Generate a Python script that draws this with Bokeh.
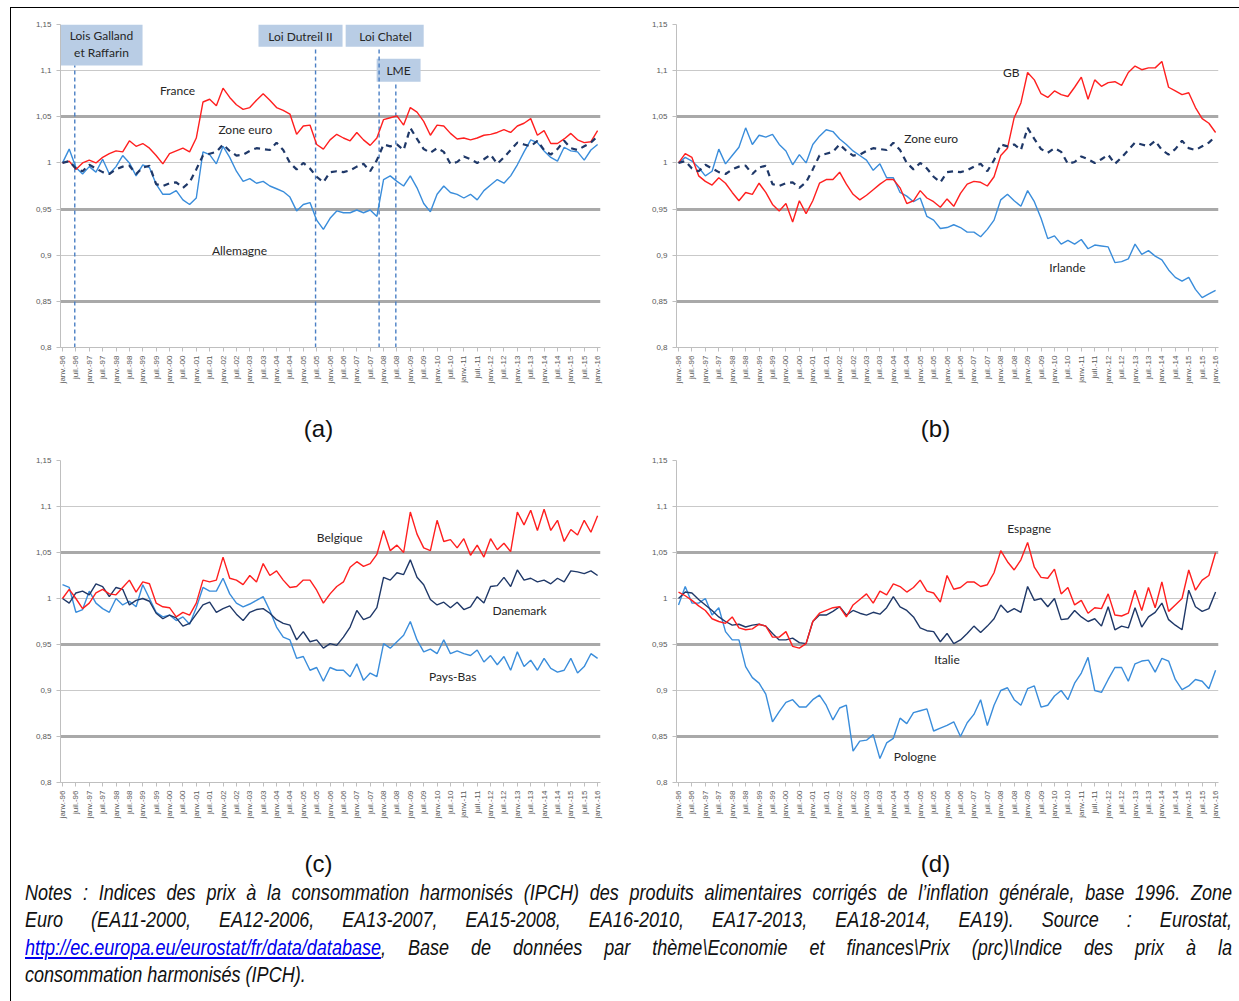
import math
from bokeh.plotting import figure
from bokeh.layouts import column, row
from bokeh.models import Range1d, FixedTicker, Grid, Div
from bokeh.core.properties import value
from bokeh.embed import file_html
from bokeh.resources import INLINE

# ---------------- data (quarterly readings, month index from janv.-96) -------------
months = list(range(0, 241, 3))

tick_months = list(range(0, 241, 6))
tick_labels = ["janv.-96", "juil.-96", "janv.-97", "juil.-97", "janv.-98", "juil.-98",
               "janv.-99", "juil.-99", "janv.-00", "juil.-00", "janv.-01", "juil.-01",
               "janv.-02", "juil.-02", "janv.-03", "juil.-03", "janv.-04", "juil.-04",
               "janv.-05", "juil.-05", "janv.-06", "juil.-06", "janv.-07", "juil.-07",
               "janv.-08", "juil.-08", "janv.-09", "juil.-09", "janv.-10", "juil.-10",
               "janv.-11", "juil.-11", "janv.-12", "juil.-12", "janv.-13", "juil.-13",
               "janv.-14", "juil.-14", "janv.-15", "juil.-15", "janv.-16"]

y_ticks = [0.8, 0.85, 0.9, 0.95, 1.0, 1.05, 1.1, 1.15]
y_labels = ["0,8", "0,85", "0,9", "0,95", "1", "1,05", "1,1", "1,15"]

captions = ["(a)", "(b)", "(c)", "(d)"]

france = [1.000, 1.002, 0.993, 1.000, 1.003, 1.000, 1.006, 1.010, 1.013, 1.012, 1.024, 1.018,
          1.021, 1.016, 1.008, 0.999, 1.010, 1.013, 1.016, 1.012, 1.027, 1.066, 1.069, 1.062,
          1.081, 1.071, 1.063, 1.058, 1.060, 1.068, 1.075, 1.068, 1.060, 1.057, 1.053, 1.031,
          1.040, 1.041, 1.020, 1.015, 1.025, 1.031, 1.027, 1.024, 1.033, 1.025, 1.019, 1.027,
          1.047, 1.049, 1.051, 1.041, 1.060, 1.055, 1.045, 1.030, 1.041, 1.040, 1.032, 1.026,
          1.027, 1.025, 1.027, 1.030, 1.031, 1.033, 1.036, 1.033, 1.040, 1.043, 1.048, 1.030,
          1.035, 1.021, 1.021, 1.026, 1.032, 1.025, 1.022, 1.023, 1.035]
zone_euro = [1.000, 1.002, 0.994, 0.991, 0.998, 0.994, 0.990, 0.988, 0.993, 0.996, 0.997, 0.988,
             0.995, 0.997, 0.977, 0.975, 0.978, 0.979, 0.973, 0.979, 0.993, 1.008, 1.010, 1.012,
             1.020, 1.013, 1.008, 1.009, 1.013, 1.016, 1.015, 1.014, 1.022, 1.014, 1.000, 0.993,
             1.000, 0.994, 0.985, 0.979, 0.990, 0.991, 0.990, 0.992, 0.996, 0.999, 0.991, 1.003,
             1.020, 1.018, 1.020, 1.014, 1.038, 1.026, 1.015, 1.011, 1.016, 1.012, 0.999, 1.001,
             1.007, 1.004, 1.000, 1.004, 1.009, 0.999, 1.006, 1.014, 1.022, 1.020, 1.018, 1.024,
             1.014, 1.009, 1.015, 1.024, 1.016, 1.014, 1.018, 1.022, 1.029]
allemagne = [1.000, 1.015, 0.995, 0.988, 0.996, 0.990, 1.004, 0.988, 0.996, 1.008, 1.000, 0.986,
             0.998, 0.995, 0.977, 0.966, 0.966, 0.970, 0.960, 0.955, 0.962, 1.012, 1.009, 0.999,
             1.018, 1.006, 0.991, 0.980, 0.983, 0.978, 0.980, 0.975, 0.972, 0.969, 0.963, 0.948,
             0.955, 0.957, 0.938, 0.928, 0.940, 0.948, 0.946, 0.946, 0.949, 0.946, 0.949, 0.942,
             0.982, 0.986, 0.980, 0.975, 0.986, 0.973, 0.956, 0.947, 0.966, 0.975, 0.968, 0.966,
             0.962, 0.966, 0.960, 0.970, 0.976, 0.982, 0.978, 0.986, 0.998, 1.012, 1.025, 1.022,
             1.013, 1.006, 1.002, 1.017, 1.013, 1.012, 1.003, 1.014, 1.020]
gb = [1.000, 1.010, 1.006, 0.986, 0.980, 0.976, 0.984, 0.978, 0.968, 0.959, 0.968, 0.966,
      0.978, 0.968, 0.955, 0.948, 0.956, 0.936, 0.959, 0.945, 0.959, 0.978, 0.982, 0.982,
      0.990, 0.977, 0.966, 0.960, 0.965, 0.971, 0.977, 0.982, 0.982, 0.973, 0.956, 0.959,
      0.970, 0.962, 0.958, 0.952, 0.961, 0.953, 0.967, 0.977, 0.980, 0.979, 0.975, 0.985,
      1.008, 1.016, 1.049, 1.065, 1.098, 1.090, 1.075, 1.071, 1.078, 1.074, 1.072, 1.082,
      1.093, 1.069, 1.090, 1.083, 1.087, 1.088, 1.084, 1.098, 1.105, 1.101, 1.103, 1.103,
      1.110, 1.082, 1.078, 1.074, 1.076, 1.060, 1.048, 1.043, 1.033]
irlande = [1.000, 1.006, 1.002, 0.995, 0.986, 0.991, 1.015, 0.999, 1.008, 1.017, 1.038, 1.020,
           1.030, 1.028, 1.031, 1.020, 1.013, 0.998, 1.009, 1.000, 1.020, 1.029, 1.036, 1.034,
           1.026, 1.020, 1.013, 1.008, 1.003, 0.992, 0.999, 0.984, 0.984, 0.968, 0.964, 0.958,
           0.962, 0.942, 0.938, 0.929, 0.930, 0.933, 0.930, 0.925, 0.925, 0.920, 0.928, 0.938,
           0.960, 0.966, 0.959, 0.953, 0.970, 0.958, 0.940, 0.918, 0.921, 0.912, 0.916, 0.912,
           0.917, 0.907, 0.911, 0.910, 0.909, 0.892, 0.893, 0.896, 0.912, 0.901, 0.905, 0.899,
           0.895, 0.884, 0.876, 0.872, 0.876, 0.863, 0.854, 0.858, 0.862]
belgique = [1.000, 1.010, 1.000, 0.989, 0.995, 1.006, 1.010, 1.005, 1.004, 1.012, 1.020, 1.007,
            1.018, 1.016, 0.995, 0.991, 0.990, 0.980, 0.985, 0.982, 0.995, 1.020, 1.018, 1.020,
            1.045, 1.022, 1.020, 1.015, 1.025, 1.018, 1.038, 1.025, 1.030, 1.020, 1.012, 1.013,
            1.020, 1.020, 1.009, 0.995, 1.005, 1.013, 1.018, 1.034, 1.040, 1.035, 1.038, 1.048,
            1.074, 1.052, 1.058, 1.050, 1.094, 1.070, 1.055, 1.052, 1.085, 1.062, 1.064, 1.055,
            1.065, 1.047, 1.058, 1.045, 1.065, 1.053, 1.060, 1.051, 1.094, 1.080, 1.096, 1.074,
            1.097, 1.074, 1.085, 1.062, 1.075, 1.069, 1.085, 1.072, 1.090]
danemark = [1.000, 0.995, 1.006, 1.008, 1.004, 1.016, 1.013, 1.002, 1.012, 1.010, 0.993, 0.998,
            1.000, 0.997, 0.984, 0.978, 0.982, 0.979, 0.970, 0.973, 0.983, 0.993, 0.996, 0.985,
            0.989, 0.992, 0.983, 0.976, 0.985, 0.988, 0.989, 0.984, 0.977, 0.973, 0.971, 0.955,
            0.964, 0.953, 0.955, 0.946, 0.951, 0.949, 0.958, 0.969, 0.987, 0.977, 0.980, 0.990,
            1.023, 1.020, 1.028, 1.026, 1.042, 1.023, 1.015, 0.999, 0.993, 0.996, 0.990, 0.996,
            0.988, 0.991, 1.002, 0.995, 1.013, 1.014, 1.023, 1.013, 1.031, 1.020, 1.022, 1.018,
            1.020, 1.016, 1.022, 1.018, 1.030, 1.029, 1.027, 1.030, 1.025]
pays_bas = [1.015, 1.012, 0.985, 0.988, 1.008, 0.995, 0.989, 0.985, 1.000, 0.993, 0.997, 0.991,
            1.015, 1.000, 0.985, 0.980, 0.982, 0.976, 0.980, 0.972, 0.990, 1.012, 1.008, 1.008,
            1.022, 1.005, 0.995, 0.991, 0.994, 0.998, 1.002, 0.987, 0.969, 0.958, 0.955, 0.935,
            0.937, 0.922, 0.925, 0.910, 0.925, 0.922, 0.922, 0.915, 0.929, 0.911, 0.919, 0.915,
            0.951, 0.946, 0.953, 0.960, 0.975, 0.955, 0.942, 0.945, 0.940, 0.955, 0.940, 0.943,
            0.940, 0.938, 0.944, 0.931, 0.938, 0.928, 0.937, 0.922, 0.942, 0.926, 0.933, 0.922,
            0.935, 0.924, 0.920, 0.922, 0.935, 0.919, 0.926, 0.940, 0.935]
espagne = [1.007, 1.003, 0.998, 0.992, 0.987, 0.978, 0.975, 0.973, 0.980, 0.968, 0.966, 0.967,
           0.972, 0.970, 0.958, 0.958, 0.964, 0.948, 0.946, 0.951, 0.975, 0.984, 0.987, 0.990,
           0.991, 0.980, 0.993, 0.999, 1.005, 0.995, 1.008, 1.004, 1.016, 1.013, 1.007, 1.012,
           1.020, 1.008, 1.006, 0.996, 1.025, 1.010, 1.012, 1.018, 1.018, 1.013, 1.015, 1.028,
           1.052, 1.040, 1.031, 1.042, 1.061, 1.034, 1.023, 1.022, 1.032, 1.005, 1.012, 0.993,
           0.998, 0.984, 0.990, 0.989, 1.005, 0.982, 0.981, 0.984, 1.009, 0.987, 1.012, 0.990,
           1.018, 0.986, 0.993, 1.000, 1.031, 1.009, 1.020, 1.025, 1.050]
italie = [1.000, 1.007, 1.006, 0.999, 0.993, 0.987, 0.980, 0.975, 0.971, 0.972, 0.969, 0.971,
          0.972, 0.970, 0.962, 0.955, 0.955, 0.957, 0.952, 0.951, 0.975, 0.982, 0.982, 0.986,
          0.991, 0.982, 0.987, 0.984, 0.982, 0.985, 0.983, 0.990, 1.002, 0.991, 0.987, 0.980,
          0.968, 0.965, 0.964, 0.953, 0.962, 0.951, 0.955, 0.962, 0.970, 0.963, 0.970, 0.978,
          0.993, 0.985, 0.989, 0.985, 1.013, 0.998, 1.000, 0.991, 1.000, 0.977, 0.978, 0.987,
          0.980, 0.975, 0.978, 0.970, 0.991, 0.966, 0.970, 0.968, 0.990, 0.969, 0.980, 0.985,
          0.995, 0.977, 0.971, 0.966, 1.009, 0.991, 0.986, 0.989, 1.007]
pologne = [0.993, 1.013, 0.995, 0.995, 1.000, 0.982, 0.990, 0.964, 0.955, 0.955, 0.926, 0.914,
           0.908, 0.896, 0.866, 0.877, 0.887, 0.890, 0.882, 0.882, 0.890, 0.895, 0.884, 0.868,
           0.881, 0.884, 0.834, 0.845, 0.846, 0.852, 0.826, 0.843, 0.848, 0.870, 0.864, 0.876,
           0.878, 0.880, 0.856, 0.859, 0.862, 0.866, 0.850, 0.865, 0.874, 0.890, 0.862, 0.884,
           0.900, 0.903, 0.890, 0.884, 0.902, 0.905, 0.882, 0.884, 0.894, 0.900, 0.890, 0.908,
           0.919, 0.936, 0.900, 0.898, 0.912, 0.925, 0.925, 0.910, 0.929, 0.932, 0.933, 0.920,
           0.935, 0.932, 0.912, 0.901, 0.905, 0.912, 0.910, 0.902, 0.922]

# French policy events (month index) shown in panel (a)
events = ["Lois Galland et Raffarin", "Loi Dutreil II", "Loi Chatel", "LME"]
event_months = [5.5, 113.5, 142, 149.5]

# ---------------- styles ------------------------------------------------------------
RED = "#ff1f1f"
BLUE = "#3a8ddb"
NAVY = "#1f3868"
LBL_FONT = "Lato"
W = 1.4


def make_panel(width, height, left, right, top, bottom):
    p = figure(width=width, height=height, output_backend="svg", toolbar_location=None,
               x_range=Range1d(-0.9, 241.3), y_range=Range1d(0.8, 1.15),
               min_border_left=left, min_border_right=right,
               min_border_top=top, min_border_bottom=bottom)
    p.outline_line_color = None
    p.background_fill_color = "white"
    p.border_fill_color = "white"
    p.xgrid.visible = False
    p.ygrid.ticker = FixedTicker(ticks=[0.9, 1.0, 1.1, 1.15])
    p.ygrid.grid_line_color = "#c9c9c9"
    p.ygrid.grid_line_width = 1.2
    p.add_layout(Grid(dimension=1, ticker=FixedTicker(ticks=[0.85, 0.95, 1.05]),
                      grid_line_color="#a9a9a9", grid_line_width=3))
    # y axis
    p.yaxis.ticker = FixedTicker(ticks=y_ticks)
    p.yaxis.major_label_overrides = dict(zip(y_ticks, y_labels))
    p.yaxis.major_label_text_font_size = "8px"
    p.yaxis.major_label_text_font = "Liberation Sans"
    p.yaxis.major_label_text_color = "#595959"
    p.yaxis.axis_line_color = "#bfbfbf"
    p.yaxis.major_tick_line_color = "#bfbfbf"
    p.yaxis.major_tick_out = 4
    p.yaxis.major_tick_in = 0
    p.yaxis.minor_tick_line_color = None
    # x axis
    p.xaxis.ticker = FixedTicker(ticks=tick_months)
    p.xaxis.major_label_overrides = dict(zip(tick_months, tick_labels))
    p.xaxis.major_label_orientation = math.pi / 2
    p.xaxis.major_label_text_font_size = "8px"
    p.xaxis.major_label_text_font = "Liberation Sans"
    p.xaxis.major_label_text_color = "#595959"
    p.xaxis.axis_line_color = "#bfbfbf"
    p.xaxis.major_tick_line_color = "#bfbfbf"
    p.xaxis.major_tick_out = 4
    p.xaxis.major_tick_in = 0
    p.xaxis.minor_tick_line_color = None
    p.xaxis.major_label_standoff = 4
    return p


def caption_fig(width, height, text, cx, cy):
    """A small strip holding the '(a)'-style caption under each panel (pixel space)."""
    c = figure(width=width, height=height, output_backend="svg", toolbar_location=None,
               x_range=Range1d(0, width), y_range=Range1d(0, height), min_border=0)
    c.axis.visible = False
    c.grid.visible = False
    c.outline_line_color = None
    c.border_fill_color = "white"
    c.text(x=[cx], y=[cy], text=[text], text_font=value("Liberation Sans"),
           text_font_size="24px", text_align="center", text_baseline="middle",
           text_color="#111111")
    return c


def labels(p, xs, ys, texts, size="12px"):
    p.text(x=xs, y=ys, text=texts, text_font=value(LBL_FONT), text_font_size=size,
           text_align="center", text_baseline="middle", text_color="#262626")


# ---------------- panel (a) ---------------------------------------------------------
pa = make_panel(607, 392, 49, 18, 16, 53)
pa.quad(left=[-0.9, 87.9, 127.0, 140.9], right=[35.9, 125.6, 162.0, 160.6],
        top=[1.15, 1.15, 1.15, 1.113], bottom=[1.1056, 1.126, 1.126, 1.088],
        fill_color="#b9cde5", line_color=None)
pa.segment(x0=event_months, x1=event_months, y0=[0.8] * 4,
           y1=[1.1056, 1.126, 1.126, 1.088], line_color="#4a7fc4", line_width=1.4,
           line_dash="4 3")
labels(pa, [17.5, 17.5, 106.7, 144.9, 150.7], [1.1385, 1.1195, 1.1375, 1.1375, 1.1005],
       ["Lois Galland", "et Raffarin", events[1], events[2], events[3]])
pa.line(months, allemagne, line_color=BLUE, line_width=W)
pa.line(months, france, line_color=RED, line_width=W)
pa.line(months, zone_euro, line_color=NAVY, line_width=2.2, line_dash="6 5")
labels(pa, [51.6, 82.0, 79.4], [1.0785, 1.0365, 0.905], ["France", "Zone euro", "Allemagne"])

# ---------------- panel (b) ---------------------------------------------------------
pb = make_panel(613, 392, 58, 13, 16, 53)
pb.line(months, irlande, line_color=BLUE, line_width=W)
pb.line(months, gb, line_color=RED, line_width=W)
pb.line(months, zone_euro, line_color=NAVY, line_width=2.2, line_dash="6 5")
labels(pb, [148.7, 112.9, 173.8], [1.098, 1.0265, 0.887], ["GB", "Zone euro", "Irlande"])

# ---------------- panel (c) ---------------------------------------------------------
pc = make_panel(607, 392, 49, 18, 15, 55)
pc.line(months, pays_bas, line_color=BLUE, line_width=W)
pc.line(months, danemark, line_color=NAVY, line_width=W)
pc.line(months, belgique, line_color=RED, line_width=W)
labels(pc, [124.3, 205.0, 175.0], [1.066, 0.987, 0.915], ["Belgique", "Danemark", "Pays-Bas"])

# ---------------- panel (d) ---------------------------------------------------------
pd_ = make_panel(613, 392, 58, 13, 15, 55)
pd_.line(months, pologne, line_color=BLUE, line_width=W)
pd_.line(months, italie, line_color=NAVY, line_width=W)
pd_.line(months, espagne, line_color=RED, line_width=W)
labels(pd_, [156.7, 120.0, 105.7], [1.076, 0.934, 0.828], ["Espagne", "Italie", "Pologne"])

cap_a = caption_fig(607, 45, captions[0], 307, 17)
cap_b = caption_fig(613, 45, captions[1], 317, 17)
cap_c = caption_fig(607, 41, captions[2], 307, 15)
cap_d = caption_fig(613, 41, captions[3], 317, 15)

# ---------------- notes -------------------------------------------------------------
note_lines = [
    "Notes : Indices des prix à la consommation harmonisés (IPCH) des produits alimentaires "
    "corrigés de l’inflation générale, base 1996. Zone",
    "Euro (EA11-2000, EA12-2006, EA13-2007, EA15-2008, EA16-2010, EA17-2013, EA18-2014, "
    "EA19). Source : Eurostat,",
    '<a href="http://ec.europa.eu/eurostat/fr/data/database" style="color:#0000ee">'
    "http://ec.europa.eu/eurostat/fr/data/database</a>, Base de données par "
    "thème\\Economie et finances\\Prix (prc)\\Indice des prix à la",
    "consommation harmonisés (IPCH).",
]
SCALE = 0.82
line_html = ""
for i, ln in enumerate(note_lines):
    last = "left" if i == len(note_lines) - 1 else "justify"
    line_html += (f'<div style="text-align:justify;text-align-last:{last};'
                  f'white-space:nowrap">{ln}</div>')
notes = Div(text=(f'<div style="width:1207px;margin-left:9px;margin-top:-4px;'
                  f'overflow:hidden;'
                  f'font-family:\'Liberation Sans\',sans-serif;font-style:italic;'
                  f'font-size:22px;line-height:27.3px;color:#111">'
                  f'<div style="width:{1207 / SCALE:.0f}px;transform:scaleX({SCALE});'
                  f'transform-origin:0 0">{line_html}</div></div>'),
            width=1220, height=116)

layout = column(
    row(pa, pb),
    row(cap_a, cap_b),
    row(pc, pd_),
    row(cap_c, cap_d),
    notes,
    styles={"margin-left": "10px", "margin-top": "7px",
            "border-left": "1px solid #000", "border-top": "1px solid #000"},
)

open("out.html", "w").write(file_html(layout, INLINE))
